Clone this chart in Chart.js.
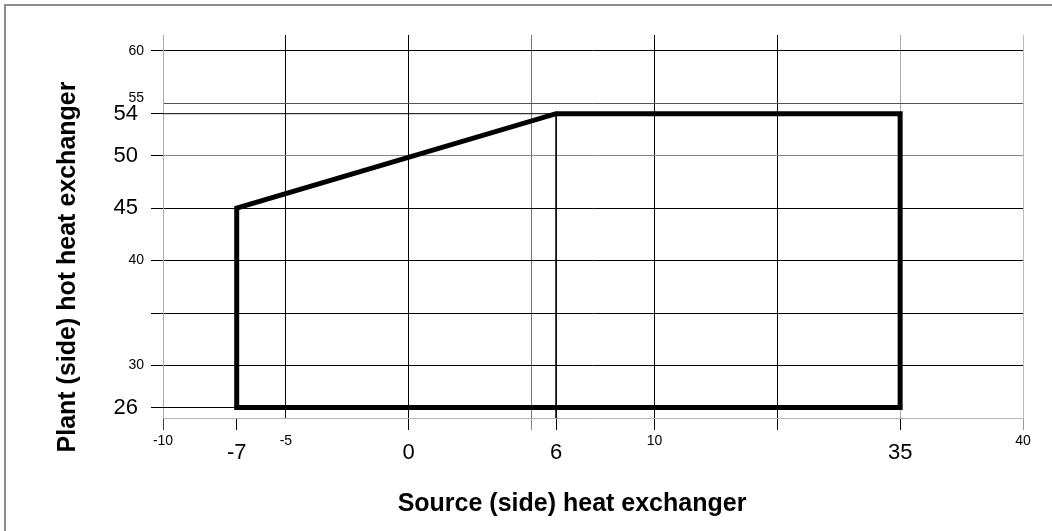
<!DOCTYPE html>
<html>
<head>
<meta charset="utf-8">
<script src="https://cdn.jsdelivr.net/npm/chart.js@4.4.1/dist/chart.umd.min.js"></script>
<style>
  body { margin: 0; background: #fff; overflow: hidden; }
  #wrap { position: relative; width: 1052px; height: 531px; overflow: hidden; }
  #frame { position: absolute; left: 4px; top: 4px; width: 1070px; height: 550px; border: 2px solid #8c8c8c; box-sizing: border-box; }
  canvas { position: absolute; left: 0; top: 0; }
</style>
</head>
<body>
<div id="wrap">
  <div id="frame"></div>
  <canvas id="envelopeChart" width="1052" height="531"></canvas>
</div>
<script>
// operating envelope: source side temperature (x) vs plant side hot temperature (y)
const envelopeX = [-7, -7, 6, 35, 35, -7];
const envelopeY = [26, 45, 54, 54, 26, 26];

// value sitting on each evenly spaced vertical grid line (the figure is not to scale)
const xGridValues = [-10, -5, 0, 5, 10, 20, 35, 40];
const xSmallLabels = [-10, -5, 10, 40];
const xBigLabels = [-7, 0, 6, 35];

const yGridValues = [30, 35, 40, 45, 50, 55, 60];
const ySmallLabels = [30, 40, 55, 60];
const yBigLabels = [26, 45, 50, 54];
const yMin = 25;
const yMax = 61.5;

const xTitle = 'Source (side) heat exchanger';
const yTitle = 'Plant (side) hot heat exchanger';

const FONT = 'Arial, "Liberation Sans", sans-serif';
const NONE = 'rgba(0,0,0,0)';

const xTicks = [...new Set([...xGridValues, ...xBigLabels])].sort((a, b) => a - b);
const yTicks = [...new Set([...yGridValues, ...yBigLabels])].sort((a, b) => a - b);

// thin guide lines from the two labelled corners back to the axes
const guideTop = [
    { x: xGridValues[0], y: envelopeY[2] },
    { x: envelopeX[2], y: envelopeY[2] },
    { x: envelopeX[2], y: yMin }
];
const guideBottom = [
    { x: xGridValues[0], y: envelopeY[0] },
    { x: envelopeX[0], y: envelopeY[0] }
];

// x scale: each grid interval gets the same width whatever its value span
class GridIndexScale extends Chart.LinearScale {
    valueToIndex(v) {
        const g = xGridValues;
        const n = g.length - 1;
        if (v <= g[0]) return (v - g[0]) / (g[1] - g[0]);
        for (let i = 0; i < n; i++) {
            if (v <= g[i + 1]) return i + (v - g[i]) / (g[i + 1] - g[i]);
        }
        return n + (v - g[n]) / (g[n] - g[n - 1]);
    }
    getPixelForValue(v) {
        return this.getPixelForDecimal(this.valueToIndex(v) / (xGridValues.length - 1));
    }
    getValueForPixel(p) {
        const g = xGridValues;
        const idx = this.getDecimalForPixel(p) * (g.length - 1);
        const i = Math.max(0, Math.min(g.length - 2, Math.floor(idx)));
        return g[i] + (idx - i) * (g[i + 1] - g[i]);
    }
}
GridIndexScale.id = 'gridindex';
GridIndexScale.defaults = Chart.LinearScale.defaults;
Chart.register(GridIndexScale);

const xGridColor = { '-10': '#aaa', '-5': '#000', '0': '#000', '5': '#777', '10': '#000', '20': '#000', '35': '#aaa', '40': '#bbb' };
const xTickColor = { '-10': '#444', '-7': '#000', '0': '#000', '5': '#888', '6': '#000', '10': '#000', '20': '#000', '35': '#000', '40': '#999' };
const yGridColor = { '30': '#000', '35': '#000', '40': '#000', '45': '#000', '50': '#888', '55': '#555', '60': '#000' };

const lifted = v => ySmallLabels.includes(v) && yBigLabels.some(b => v > b && v - b < 2);

const axisTitles = {
    id: 'axisTitles',
    afterDraw(chart) {
        const ctx = chart.ctx;
        ctx.save();
        ctx.fillStyle = '#000';
        ctx.font = 'bold 25px ' + FONT;
        ctx.textAlign = 'center';
        ctx.textBaseline = 'alphabetic';
        ctx.fillText(xTitle, 572, 511);
        ctx.translate(68, 267);
        ctx.rotate(-Math.PI / 2);
        ctx.textBaseline = 'middle';
        ctx.fillText(yTitle, 0, 0);
        ctx.restore();
    }
};

Chart.defaults.font.family = FONT;
Chart.defaults.color = '#000';

new Chart('envelopeChart', {
    type: 'line',
    data: {
        datasets: [
            {
                data: envelopeX.map((x, i) => ({ x: x, y: envelopeY[i] })),
                borderColor: '#000',
                borderWidth: 5,
                borderJoinStyle: 'miter',
                borderCapStyle: 'square',
                pointRadius: 0,
                tension: 0,
                fill: false
            },
            {
                data: guideTop,
                borderColor: '#000',
                borderWidth: 1,
                pointRadius: 0,
                tension: 0,
                fill: false
            },
            {
                data: guideBottom,
                borderColor: '#000',
                borderWidth: 1,
                pointRadius: 0,
                tension: 0,
                fill: false
            }
        ]
    },
    options: {
        responsive: false,
        animation: false,
        layout: { padding: { top: 35, right: 29, left: 0, bottom: 0 } },
        plugins: {
            legend: { display: false },
            tooltip: { enabled: false }
        },
        scales: {
            x: {
                type: 'gridindex',
                position: 'bottom',
                min: xGridValues[0],
                max: xGridValues[xGridValues.length - 1],
                afterFit: function (scale) { scale.height = 113; },
                afterBuildTicks: function (scale) { scale.ticks = xTicks.map(v => ({ value: v })); },
                grid: {
                    lineWidth: 1,
                    tickLength: 12,
                    color: c => (c.tick && xGridColor[c.tick.value]) || NONE,
                    tickColor: c => (c.tick && xTickColor[c.tick.value]) || NONE
                },
                border: { color: '#b5b5b5', width: 1 },
                ticks: {
                    autoSkip: false,
                    minRotation: 0,
                    maxRotation: 0,
                    padding: 3,
                    color: '#000',
                    font: c => (c.tick && xBigLabels.includes(c.tick.value))
                        ? { family: FONT, size: 22, lineHeight: 1.82 }
                        : { family: FONT, size: 14, lineHeight: 1.2 },
                    callback: v => (xBigLabels.includes(v) || xSmallLabels.includes(v)) ? String(v) : ''
                }
            },
            y: {
                type: 'linear',
                position: 'left',
                min: yMin,
                max: yMax,
                afterFit: function (scale) { scale.width = 163; },
                afterBuildTicks: function (scale) { scale.ticks = yTicks.map(v => ({ value: v })); },
                grid: {
                    lineWidth: 1,
                    tickLength: 12,
                    color: c => (c.tick && yGridColor[c.tick.value]) || NONE,
                    tickColor: c => {
                        if (!c.tick) return NONE;
                        const v = c.tick.value;
                        return (yBigLabels.includes(v) || v === 30 || v === 35 || v === 40 || v === 60) ? '#000' : NONE;
                    }
                },
                border: { color: '#aaa', width: 1 },
                ticks: {
                    autoSkip: false,
                    padding: 7,
                    color: '#000',
                    font: c => {
                        const v = c.tick ? c.tick.value : null;
                        if (yBigLabels.includes(v)) return { family: FONT, size: 22, lineHeight: 1.2 };
                        return { family: FONT, size: 14, lineHeight: lifted(v) ? 0.72 : 1.2 };
                    },
                    callback: v => {
                        if (yBigLabels.includes(v)) return v + ' ';
                        if (lifted(v)) return [String(v), ''];
                        return ySmallLabels.includes(v) ? String(v) : '';
                    }
                }
            }
        }
    },
    plugins: [axisTitles]
});
</script>
</body>
</html>
